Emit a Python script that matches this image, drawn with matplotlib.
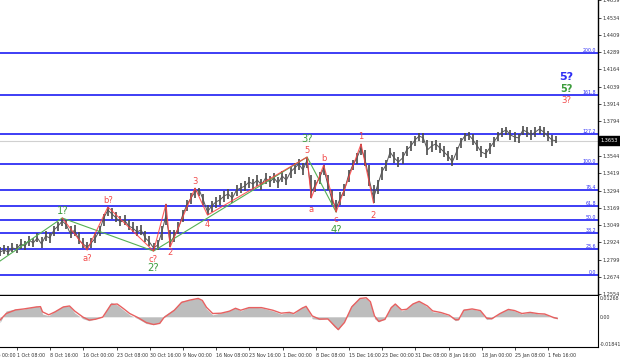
import numpy as np
import matplotlib
matplotlib.use("Agg")
import matplotlib.pyplot as plt
from matplotlib.transforms import blended_transform_factory

# --- price bars, one sample every 4 H4 bars ---
closes = [
    1.2855, 1.2869, 1.2855, 1.2884, 1.2877, 1.2913, 1.2898, 1.2941, 1.2920, 1.2956,
    1.2913, 1.2970, 1.2956, 1.3013, 1.3042, 1.3077, 1.3049, 1.2984, 1.3013, 1.2941,
    1.2913, 1.2891, 1.2920, 1.2956, 1.3013, 1.3099, 1.3156, 1.3128, 1.3099, 1.3070,
    1.3085, 1.3042, 1.3027, 1.2999, 1.3013, 1.2956, 1.2927, 1.2884, 1.2905, 1.2999,
    1.3120, 1.2920, 1.2970, 1.3027, 1.3120, 1.3192, 1.3242, 1.3285, 1.3300, 1.3228,
    1.3142, 1.3185, 1.3214, 1.3228, 1.3257, 1.3271, 1.3242, 1.3300, 1.3314, 1.3328,
    1.3357, 1.3343, 1.3371, 1.3336, 1.3386, 1.3357, 1.3386, 1.3350, 1.3400, 1.3371,
    1.3429, 1.3458, 1.3486, 1.3443, 1.3515, 1.3285, 1.3336, 1.3386, 1.3458, 1.3336,
    1.3228, 1.3171, 1.3242, 1.3300, 1.3407, 1.3479, 1.3529, 1.3601, 1.3515, 1.3371,
    1.3242, 1.3336, 1.3429, 1.3479, 1.3572, 1.3529, 1.3501, 1.3529, 1.3587, 1.3615,
    1.3658, 1.3687, 1.3673, 1.3587, 1.3615, 1.3630, 1.3601, 1.3572, 1.3543, 1.3501,
    1.3572, 1.3644, 1.3687, 1.3694, 1.3658, 1.3615, 1.3572, 1.3558, 1.3601, 1.3644,
    1.3687, 1.3716, 1.3730, 1.3694, 1.3680, 1.3673, 1.3730, 1.3716, 1.3694, 1.3716,
    1.3737, 1.3716, 1.3687, 1.3658, 1.3653,
]
highs = [
    1.2891, 1.2905, 1.2898, 1.2920, 1.2913, 1.2948, 1.2934, 1.2970, 1.2956, 1.2991,
    1.2963, 1.3006, 1.2991, 1.3042, 1.3070, 1.3099, 1.3085, 1.3042, 1.3049, 1.2999,
    1.2956, 1.2927, 1.2956, 1.2991, 1.3042, 1.3128, 1.3178, 1.3171, 1.3142, 1.3113,
    1.3120, 1.3085, 1.3070, 1.3042, 1.3049, 1.3006, 1.2970, 1.2920, 1.2941, 1.3042,
    1.3199, 1.3013, 1.3013, 1.3070, 1.3156, 1.3228, 1.3278, 1.3314, 1.3314, 1.3271,
    1.3192, 1.3221, 1.3250, 1.3264, 1.3293, 1.3307, 1.3285, 1.3336, 1.3350, 1.3364,
    1.3393, 1.3379, 1.3407, 1.3379, 1.3422, 1.3400, 1.3422, 1.3393, 1.3436, 1.3414,
    1.3465, 1.3493, 1.3522, 1.3493, 1.3536, 1.3407, 1.3371, 1.3429, 1.3479, 1.3407,
    1.3300, 1.3228, 1.3285, 1.3343, 1.3443, 1.3515, 1.3565, 1.3630, 1.3587, 1.3479,
    1.3336, 1.3371, 1.3465, 1.3515, 1.3601, 1.3572, 1.3536, 1.3572, 1.3615, 1.3651,
    1.3687, 1.3708, 1.3708, 1.3658, 1.3651, 1.3658, 1.3637, 1.3615, 1.3579, 1.3551,
    1.3608, 1.3673, 1.3708, 1.3716, 1.3701, 1.3658, 1.3615, 1.3594, 1.3637, 1.3680,
    1.3716, 1.3744, 1.3751, 1.3730, 1.3716, 1.3701, 1.3759, 1.3751, 1.3730, 1.3751,
    1.3759, 1.3751, 1.3723, 1.3694, 1.3687,
]
lows = [
    1.2827, 1.2841, 1.2834, 1.2855, 1.2848, 1.2877, 1.2869, 1.2898, 1.2891, 1.2927,
    1.2884, 1.2934, 1.2920, 1.2970, 1.3006, 1.3042, 1.3020, 1.2956, 1.2970, 1.2913,
    1.2884, 1.2869, 1.2884, 1.2920, 1.2970, 1.3042, 1.3113, 1.3092, 1.3070, 1.3042,
    1.3049, 1.3013, 1.2999, 1.2970, 1.2977, 1.2927, 1.2898, 1.2862, 1.2869, 1.2941,
    1.3049, 1.2891, 1.2927, 1.2984, 1.3070, 1.3149, 1.3199, 1.3242, 1.3257, 1.3192,
    1.3120, 1.3142, 1.3171, 1.3192, 1.3214, 1.3235, 1.3207, 1.3257, 1.3278, 1.3293,
    1.3314, 1.3307, 1.3328, 1.3300, 1.3343, 1.3321, 1.3350, 1.3314, 1.3357, 1.3336,
    1.3386, 1.3414, 1.3443, 1.3407, 1.3458, 1.3242, 1.3285, 1.3343, 1.3407, 1.3300,
    1.3192, 1.3142, 1.3192, 1.3257, 1.3357, 1.3443, 1.3486, 1.3551, 1.3472, 1.3328,
    1.3207, 1.3271, 1.3371, 1.3436, 1.3529, 1.3493, 1.3465, 1.3486, 1.3543, 1.3579,
    1.3615, 1.3651, 1.3637, 1.3551, 1.3572, 1.3587, 1.3565, 1.3536, 1.3508, 1.3472,
    1.3515, 1.3601, 1.3651, 1.3658, 1.3622, 1.3579, 1.3536, 1.3529, 1.3558, 1.3608,
    1.3651, 1.3680, 1.3694, 1.3658, 1.3644, 1.3637, 1.3694, 1.3680, 1.3658, 1.3680,
    1.3701, 1.3680, 1.3651, 1.3615, 1.3637,
]
bar_step = 4

# --- fibonacci grid ---
fib_base = 1.2690
fib_top = 1.3486
fib_ratios = [0.0, 23.6, 38.2, 50.0, 61.8, 76.4, 100.0, 127.2, 161.8, 200.0]
last_price = 1.3653

# --- wave marking (sample index, 'h'/'l', label, offset pt) ---
red_idx = [15, 21, 26, 37, 40, 41, 47, 50, 74, 75, 78, 81, 87, 90]
red_kind = ["h", "l", "h", "l", "h", "l", "h", "l", "h", "l", "h", "l", "h", "l"]
red_text = ["", "a?", "b?", "c?", "", "2", "3", "4", "5", "a", "b", "c", "1", "2"]
red_dy = [0, -6, 5, -6, 0, -4, 5, -7, 5, -8.5, 5, -5.5, 5, -9]
green_start = (-4, 1.2770)
green_idx = [15, 37, 74, 81]
green_kind = ["h", "l", "h", "l"]
green_text = ["1?", "2?", "3?", "4?"]
green_dy = [5, -12, 13, -13]

# --- OsMA-like oscillator ---
osc_bar = [0, 6, 15, 23, 35, 39, 41, 47, 53, 61, 67, 72, 80, 86, 92, 99, 107, 113, 119, 125,
           133, 141, 148, 154, 158, 168, 175, 183, 191, 195, 199, 205, 213, 221, 227, 232, 240, 252, 263, 271,
           279, 283, 291, 295, 301, 308, 316, 322, 326, 332, 339, 347, 353, 357, 361, 365, 371, 377, 381, 387,
           392, 398, 404, 412, 417, 425, 433, 439, 442, 447, 455, 463, 469, 474, 482, 490, 496, 503, 511, 519,
           525, 533, 537]
osc_hist = [-0.0036, 0.0036, 0.0048, 0.0048, 0.0065, 0.0060, 0.0017, 0.0007, 0.0036, 0.0065,
            0.0065, 0.0024, -0.0012, -0.0024, -0.0012, 0.0000, 0.0089, 0.0072, 0.0041, 0.0012,
            -0.0012, -0.0041, -0.0048, -0.0036, 0.0007, 0.0048, 0.0096, 0.0104, 0.0113, 0.0096,
            0.0048, 0.0012, 0.0024, 0.0036, 0.0055, 0.0036, 0.0060, 0.0055, 0.0036, 0.0017,
            0.0029, 0.0017, 0.0060, 0.0065, -0.0012, -0.0017, -0.0012, -0.0060, -0.0080, -0.0024,
            0.0072, 0.0116, 0.0113, 0.0084, -0.0012, -0.0031, -0.0012, 0.0065, 0.0080, 0.0036,
            0.0048, 0.0084, 0.0096, 0.0060, 0.0031, 0.0024, 0.0007, -0.0024, -0.0017, 0.0048,
            0.0048, 0.0036, -0.0017, -0.0012, 0.0024, 0.0048, 0.0036, 0.0017, 0.0029, 0.0017,
            0.0017, -0.0007, -0.0012]
osc_signal = [-0.0020, 0.0020, 0.0042, 0.0048, 0.0060, 0.0062, 0.0030, 0.0012, 0.0030, 0.0060,
              0.0066, 0.0035, -0.0002, -0.0020, -0.0015, -0.0002, 0.0075, 0.0078, 0.0050, 0.0020,
              -0.0005, -0.0035, -0.0047, -0.0040, -0.0005, 0.0040, 0.0088, 0.0102, 0.0112, 0.0100,
              0.0058, 0.0020, 0.0022, 0.0034, 0.0052, 0.0040, 0.0056, 0.0056, 0.0040, 0.0022,
              0.0027, 0.0020, 0.0052, 0.0064, 0.0005, -0.0014, -0.0013, -0.0052, -0.0078, -0.0035,
              0.0060, 0.0112, 0.0116, 0.0092, 0.0005, -0.0028, -0.0016, 0.0055, 0.0078, 0.0042,
              0.0046, 0.0078, 0.0094, 0.0066, 0.0036, 0.0026, 0.0010, -0.0018, -0.0018, 0.0040,
              0.0048, 0.0038, -0.0008, -0.0012, 0.0020, 0.0045, 0.0038, 0.0020, 0.0027, 0.0019,
              0.0017, -0.0003, -0.0010]
osc_max = 0.01268
osc_min = -0.01841

# --- axis labels ---
price_ticks = [1.2554, 1.2674, 1.2799, 1.2924, 1.3049, 1.3169, 1.3294, 1.3419, 1.3544,
               1.3794, 1.3914, 1.4039, 1.4164, 1.4289, 1.4409, 1.4534, 1.4659]
date_labels = ["1 Oct 08:00", "8 Oct 16:00", "16 Oct 00:00", "23 Oct 08:00", "30 Oct 16:00",
               "9 Nov 00:00", "16 Nov 08:00", "23 Nov 16:00", "1 Dec 00:00", "8 Dec 08:00",
               "15 Dec 16:00", "23 Dec 00:00", "31 Dec 08:00", "8 Jan 16:00", "18 Jan 00:00",
               "25 Jan 08:00", "1 Feb 16:00"]
first_label_bar = 16.4
bars_per_label = 32

RED = "#f24b4b"
GREEN = "#3d9c3d"
BLUE = "#2e2ef5"

fig = plt.figure(figsize=(6.2, 3.61), dpi=100)
ax = fig.add_axes([0, 66 / 361, 598 / 620, 295 / 361])
axo = fig.add_axes([0, 14 / 361, 598 / 620, 51 / 361])

xb = np.arange(len(closes)) * bar_step
hi = np.array(highs)
lo = np.array(lows)
cl = np.array(closes)

# current price line
ax.axhline(last_price, color="#d0d0d0", lw=0.8, zorder=1)

# fib levels
for r in fib_ratios:
    lvl = fib_base + (fib_top - fib_base) * r / 100
    ax.axhline(lvl, color=BLUE, lw=1.3, zorder=2)
    ax.text(0.997, lvl, f"{r:.1f}", transform=blended_transform_factory(ax.transAxes, ax.transData),
            ha="right", va="bottom", fontsize=3.4, color=BLUE)

# bars
ax.vlines(xb, lo, hi, color="#4a4a4a", lw=1.2, zorder=3)
ax.plot(xb, cl, color="#555555", lw=0.7, zorder=3)

def pivot(i, kind):
    return xb[i], (hi[i] if kind == "h" else lo[i])

# green count
gx = [green_start[0]] + [pivot(i, k)[0] for i, k in zip(green_idx, green_kind)]
gy = [green_start[1]] + [pivot(i, k)[1] for i, k in zip(green_idx, green_kind)]
ax.plot(gx, gy, color="#55b055", lw=0.8, zorder=4)

# red count
rx = [pivot(i, k)[0] for i, k in zip(red_idx, red_kind)]
ry = [pivot(i, k)[1] for i, k in zip(red_idx, red_kind)]
ax.plot(rx, ry, color="#ff4040", lw=0.8, alpha=0.85, zorder=5)

for i, k, t, dy in zip(red_idx, red_kind, red_text, red_dy):
    if t:
        ax.annotate(t, pivot(i, k), xytext=(0, dy), textcoords="offset points",
                    ha="center", va="center", fontsize=6, color=RED, zorder=6)
for i, k, t, dy in zip(green_idx, green_kind, green_text, green_dy):
    ax.annotate(t, pivot(i, k), xytext=(0, dy), textcoords="offset points",
                ha="center", va="center", fontsize=7.2, color=GREEN, zorder=6)

# forecast labels at the right
ax.text(546, 1.4110, "5?", ha="center", va="center", fontsize=8, color=BLUE, fontweight="bold")
ax.text(546, 1.4024, "5?", ha="center", va="center", fontsize=7, color=GREEN, fontweight="bold")
ax.text(546, 1.3945, "3?", ha="center", va="center", fontsize=6.2, color=RED)

xmax = 598 / 1.0375
ax.set_xlim(0, xmax)
ax.set_ylim(1.2547, 1.4662)
ax.yaxis.tick_right()
ax.set_yticks(price_ticks)
ax.set_yticklabels([f"{p:.4f}" for p in price_ticks], fontsize=3.6, color="#333333")
ax.tick_params(axis="y", length=2, width=0.5, pad=1.5)
ax.set_xticks([])
for s in ["left", "top"]:
    ax.spines[s].set_visible(False)
ax.spines["right"].set_linewidth(1.0)
ax.spines["bottom"].set_linewidth(1.0)

# last price box
ax.text(1.004, last_price, f"{last_price:.4f}", transform=blended_transform_factory(ax.transAxes, ax.transData),
        ha="left", va="center", fontsize=3.6, color="white", clip_on=False,
        bbox=dict(boxstyle="square,pad=0.35", fc="black", ec="black"))

# oscillator
axo.fill_between(osc_bar, osc_hist, 0, color="#bdbdbd", lw=0, zorder=2)
axo.plot(osc_bar, osc_signal, color="#e86060", lw=1.0, zorder=3)
axo.set_xlim(0, xmax)
axo.set_ylim(osc_min, osc_max)
axo.yaxis.tick_right()
axo.set_yticks([osc_max, 0, osc_min])
axo.set_yticklabels([f"{osc_max:.5f}", "0.00", f"{osc_min:.5f}"], fontsize=3.4, color="#333333")
ylabs = axo.get_yticklabels()
ylabs[0].set_va("top")
ylabs[2].set_va("bottom")
axo.tick_params(axis="y", length=0, pad=1.5)
for s in ["left", "top"]:
    axo.spines[s].set_visible(False)

tick_pos = [first_label_bar + bars_per_label * j for j in range(len(date_labels))]
axo.set_xticks(tick_pos)
axo.set_xticklabels(date_labels, fontsize=3.4, color="#333333")
for lab in axo.get_xticklabels():
    lab.set_ha("left")
axo.tick_params(axis="x", length=2.5, width=0.5, pad=2)
axo.text(first_label_bar - bars_per_label, -0.115, "24 Sep 00:00",
         transform=blended_transform_factory(axo.transData, axo.transAxes),
         ha="left", va="top", fontsize=3.4, color="#333333", clip_on=False)

fig.savefig("out.png", dpi=100)
